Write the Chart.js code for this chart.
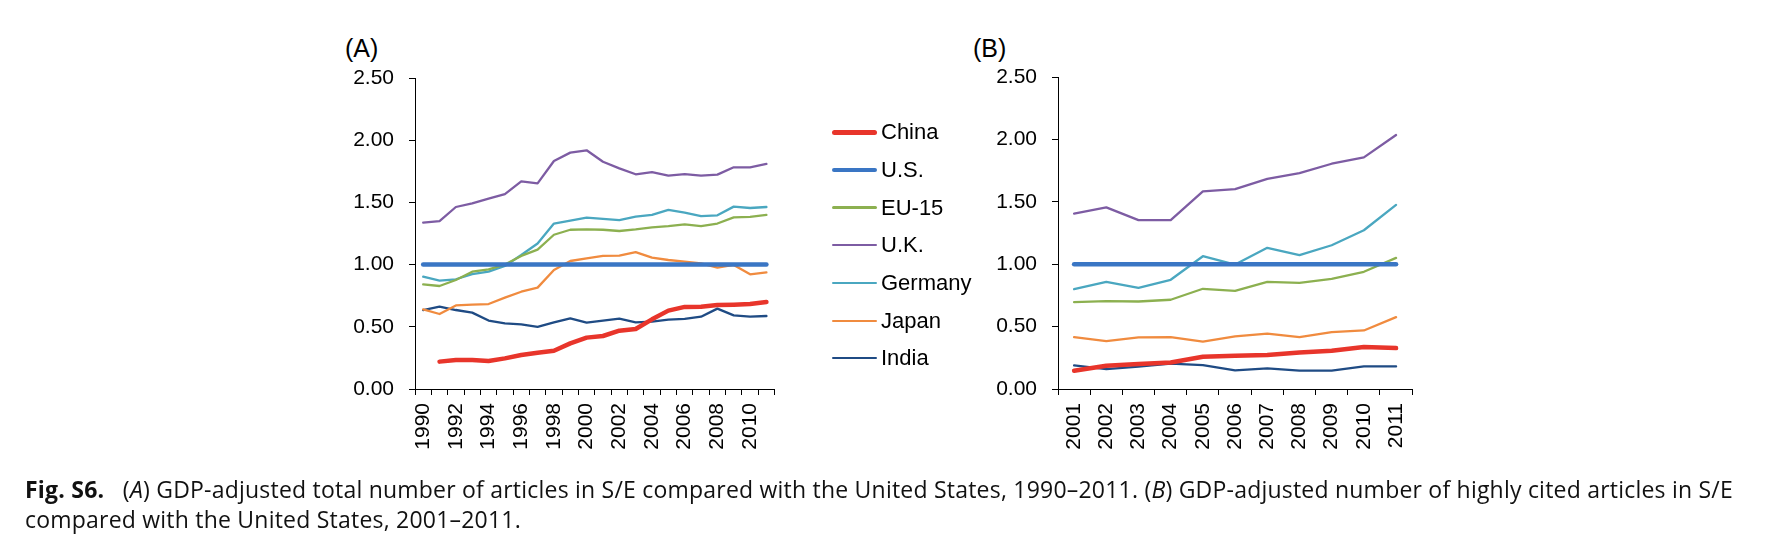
<!DOCTYPE html>
<html><head><meta charset="utf-8">
<script src="https://cdn.jsdelivr.net/npm/chart.js@4/dist/chart.umd.min.js"></script>
<style>
html,body{margin:0;padding:0;background:#fff;}
body{width:1778px;height:552px;overflow:hidden;position:relative;font-family:"Liberation Sans",Arial,sans-serif;color:#000;}
canvas{position:absolute;}
.ttl{position:absolute;font-size:25px;line-height:25px;white-space:nowrap;}
.li{position:absolute;left:832px;height:24px;white-space:nowrap;font-size:22px;line-height:24px;}
.li span.sw{position:absolute;left:0;top:50%;width:45px;border-radius:3px;}
.li span.tx{position:absolute;left:49px;top:0;}
#cap{position:absolute;left:25px;top:474px;font-family:"Open Sans",sans-serif;font-size:23px;line-height:30px;white-space:nowrap;color:#111;}
</style></head>
<body>
<div class="ttl" style="left:345px;top:36px;">(A)</div>
<div class="ttl" style="left:973px;top:36px;">(B)</div>
<canvas id="cA" width="500" height="440" style="left:300px;top:40px;"></canvas>
<canvas id="cB" width="500" height="440" style="left:930px;top:40px;"></canvas>
<div id="legend"></div>
<div id="cap"><span id="cap1"><b>Fig. S6.</b>&nbsp;&nbsp; (<i>A</i>) GDP-adjusted total number of articles in S/E compared with the United States, 1990–2011. (<i>B</i>) GDP-adjusted number of highly cited articles in S/E</span><br><span id="cap2">compared with the United States, 2001–2011.</span></div>
<script>
// ---- data ----
const yearsA = ["1990","1991","1992","1993","1994","1995","1996","1997","1998","1999","2000","2001","2002","2003","2004","2005","2006","2007","2008","2009","2010","2011"];
const yearsB = ["2001","2002","2003","2004","2005","2006","2007","2008","2009","2010","2011"];
const seriesNames = ["China","U.S.","EU-15","U.K.","Germany","Japan","India"];
const yTickValues = [0, 0.5, 1.0, 1.5, 2.0, 2.5];

const chinaA   = [null,0.22,0.233,0.233,0.225,0.246,0.273,0.292,0.308,0.367,0.413,0.426,0.469,0.482,0.56,0.63,0.66,0.662,0.675,0.678,0.683,0.70];
const usA      = [1,1,1,1,1,1,1,1,1,1,1,1,1,1,1,1,1,1,1,1,1,1];
const eu15A    = [0.841,0.828,0.876,0.943,0.962,1.00,1.07,1.12,1.24,1.28,1.283,1.28,1.27,1.283,1.30,1.31,1.324,1.31,1.33,1.38,1.383,1.40];
const ukA      = [1.337,1.35,1.463,1.493,1.53,1.567,1.669,1.653,1.833,1.90,1.919,1.827,1.774,1.726,1.744,1.715,1.728,1.715,1.723,1.782,1.782,1.809];
const germanyA = [0.903,0.871,0.882,0.924,0.943,0.989,1.077,1.17,1.33,1.353,1.377,1.367,1.358,1.385,1.40,1.44,1.417,1.39,1.396,1.466,1.455,1.463];
const japanA   = [0.64,0.603,0.672,0.678,0.683,0.734,0.782,0.815,0.957,1.029,1.05,1.07,1.072,1.10,1.056,1.037,1.024,1.01,0.975,0.997,0.922,0.938];
const indiaA   = [0.635,0.662,0.635,0.614,0.55,0.528,0.52,0.50,0.536,0.568,0.533,0.55,0.565,0.536,0.541,0.557,0.563,0.581,0.646,0.592,0.581,0.587];

const chinaB   = [0.147,0.187,0.20,0.213,0.259,0.267,0.272,0.293,0.307,0.336,0.328];
const usB      = [1,1,1,1,1,1,1,1,1,1,1];
const eu15B    = [0.696,0.704,0.701,0.715,0.803,0.787,0.859,0.851,0.883,0.939,1.051];
const ukB      = [1.406,1.455,1.353,1.353,1.583,1.602,1.684,1.73,1.805,1.856,2.035];
const germanyB = [0.80,0.859,0.811,0.875,1.064,0.997,1.131,1.072,1.152,1.272,1.475];
const japanB   = [0.416,0.384,0.413,0.416,0.379,0.421,0.443,0.416,0.456,0.469,0.576];
const indiaB   = [0.189,0.16,0.179,0.203,0.192,0.149,0.165,0.147,0.147,0.181,0.181];

// ---- styles ----
const colors = ["#e8352b","#3a76c4","#8cb050","#7d5ca3","#4aa7c0","#f08b3f","#1f4b84"];
const widths = [4.5,4.5,2.3,2.3,2.3,2.3,2.3];

const TICK_FONT = {family:"'Liberation Sans', Arial, sans-serif", size:21};

function makeChart(id, labels, series, opts){
  const datasets = series.map((d,i)=>({
    label: seriesNames[i], data: d, borderColor: colors[i], backgroundColor: colors[i],
    borderWidth: widths[i], pointRadius: 0, tension: 0, fill:false, spanGaps:false,
    borderCapStyle:'round', borderJoinStyle:'round'
  }));
  return new Chart(document.getElementById(id), {
    type:'line',
    data:{labels, datasets},
    options:{
      responsive:false, animation:false, devicePixelRatio:1,
      layout:{padding:opts.padding},
      plugins:{legend:{display:false}, tooltip:{enabled:false}},
      scales:{
        x:{
          type:'category', offset:true,
          grid:{display:true, offset:true, drawOnChartArea:false, drawTicks:true, tickLength:6, color:'#000', lineWidth:1},
          border:{display:true, color:'#000', width:1},
          ticks:{autoSkip:false, minRotation:90, maxRotation:90, padding:8, color:'#000', font:TICK_FONT,
            callback:function(v,i){ return (opts.every===1 || i%opts.every===0) ? labels[i] : ''; }},
          afterFit:(s)=>{ s.height = opts.xH; }
        },
        y:{
          min:0, max:2.5,
          afterBuildTicks:(s)=>{ s.ticks = yTickValues.map(v=>({value:v})); },
          grid:{display:true, drawOnChartArea:false, drawTicks:true, tickLength:6, color:'#000', lineWidth:1},
          border:{display:true, color:'#000', width:1},
          ticks:{padding:15, color:'#000', font:TICK_FONT, callback:(v)=>Number(v).toFixed(2)},
          afterFit:(s)=>{ s.width = opts.yW; }
        }
      }
    }
  });
}

makeChart('cA', yearsA, [chinaA,usA,eu15A,ukA,germanyA,japanA,indiaA],
  {every:2, yW:115, xH:80, padding:{left:0, right:16.5, top:38, bottom:11}});
makeChart('cB', yearsB, [chinaB,usB,eu15B,ukB,germanyB,japanB,indiaB],
  {every:1, yW:128, xH:80, padding:{left:0, right:16, top:37, bottom:11}});

// Legend (HTML)
const lg = document.getElementById('legend');
seriesNames.forEach((n,i)=>{
  const row = document.createElement('div');
  row.className='li';
  row.style.top = (132.3 + i*37.67 - 12) + 'px';
  const sw = document.createElement('span'); sw.className='sw';
  sw.style.height = widths[i]+'px'; sw.style.marginTop = (-widths[i]/2)+'px';
  sw.style.background = colors[i];
  const tx = document.createElement('span'); tx.className='tx'; tx.textContent = n;
  row.appendChild(sw); row.appendChild(tx); lg.appendChild(row);
});

// Fit caption line 1 to the reference width
(function(){
  const s1 = document.getElementById('cap1'), s2 = document.getElementById('cap2');
  const target = 1708;
  const w = s1.getBoundingClientRect().width;
  const n = s1.textContent.length;
  const ls = (target - w) / n;
  s1.style.letterSpacing = ls + 'px';
  s2.style.letterSpacing = ls + 'px';
})();
</script>
</body></html>
